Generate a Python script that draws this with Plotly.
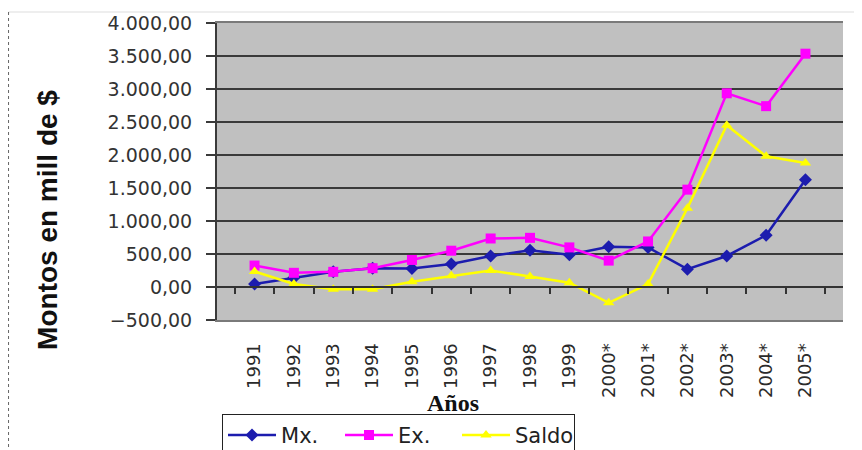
import plotly.graph_objects as go

years = ["1991", "1992", "1993", "1994", "1995", "1996", "1997", "1998", "1999",
         "2000*", "2001*", "2002*", "2003*", "2004*", "2005*"]
mx = [45, 140, 230, 285, 280, 350, 470, 555, 490, 610, 600, 270, 470, 785, 1625]
ex = [325, 215, 230, 285, 410, 550, 735, 745, 600, 400, 690, 1475, 2935, 2740, 3535]
saldo = [235, 45, -35, -35, 80, 170, 250, 160, 65, -240, 45, 1195, 2450, 1980, 1880]
y_ticks = [-500, 0, 500, 1000, 1500, 2000, 2500, 3000, 3500, 4000]
y_min, y_max = -500, 4000

fig = go.Figure()
fig.add_trace(go.Scatter(x=years, y=mx, name="Mx.", mode="lines+markers",
                         line=dict(color="#1c1cae", width=2.5),
                         marker=dict(symbol="diamond", size=10, color="#1c1cae")))
fig.add_trace(go.Scatter(x=years, y=ex, name="Ex.", mode="lines+markers",
                         line=dict(color="#ff00ff", width=2.5),
                         marker=dict(symbol="square", size=10, color="#ff00ff")))
fig.add_trace(go.Scatter(x=years, y=saldo, name="Saldo", mode="lines+markers",
                         line=dict(color="#ffff00", width=2.5),
                         marker=dict(symbol="triangle-up", size=10, color="#ffff00")))
# invisible helper trace for the category axis drawn at y = 0
fig.add_trace(go.Scatter(x=years, y=[None] * len(years), xaxis="x2", showlegend=False,
                         hoverinfo="skip", mode="lines"))

zero_pos = (0 - y_min) / (y_max - y_min)

fig.update_layout(
    width=854, height=442,
    margin=dict(l=209, r=19, t=15, b=130, autoexpand=False),
    paper_bgcolor="white",
    plot_bgcolor="#c0c0c0",
    font=dict(family="DejaVu Sans", color="#333333"),
    separators=",.",
    xaxis=dict(
        type="category", categoryarray=years, categoryorder="array",
        tickangle=-90, tickfont=dict(size=18, color="#2a2a2a"),
        ticklabelstandoff=14, automargin=False,
        showgrid=False, showline=True, linecolor="#7a7a7a", linewidth=2, mirror=True,
        ticks="", zeroline=False,
    ),
    xaxis2=dict(
        type="category", categoryarray=years, categoryorder="array", matches="x",
        overlaying="x", anchor="free", position=zero_pos,
        showticklabels=False, ticks="outside", tickson="boundaries", ticklen=6,
        tickcolor="#333333", tickwidth=2, showline=True, linecolor="#333333", linewidth=2,
        showgrid=False, zeroline=False, automargin=False,
    ),
    yaxis=dict(
        range=[y_min, y_max], tickvals=y_ticks, tickformat=",.2f",
        tickfont=dict(size=19, color="#333333"), automargin=False,
        ticklabelstandoff=10,
        showgrid=True, gridcolor="#3a3a3a", gridwidth=2,
        zeroline=False,
        showline=True, linecolor="#3a3a3a", linewidth=2,
        ticks="outside", ticklen=9, tickcolor="#3a3a3a", tickwidth=2,
    ),
    legend=dict(
        orientation="h", x=0.008, xanchor="left", y=-0.316, yanchor="top",
        bgcolor="white", bordercolor="#222222", borderwidth=1,
        itemwidth=48, entrywidth=54,
        font=dict(family="DejaVu Sans", size=21, color="#222222"),
    ),
    showlegend=True,
)

fig.add_annotation(text="<b>Montos en mill de $</b>", xref="paper", yref="paper",
                   x=-0.27, y=0.337, xanchor="center", yanchor="middle",
                   textangle=-90, showarrow=False,
                   font=dict(family="Liberation Sans", size=28, color="#111111"))
fig.add_annotation(text="<b>Años</b>", xref="paper", yref="paper",
                   x=0.377, y=-0.279, xanchor="center", yanchor="middle", showarrow=False,
                   font=dict(family="Liberation Serif", size=24, color="#111111"))

# outer chart frame
fig.add_shape(type="line", xref="paper", yref="paper", x0=-0.333, x1=1.03,
              y0=1.037, y1=1.037, line=dict(color="#dddddd", width=1))
fig.add_shape(type="line", xref="paper", yref="paper", x0=-0.333, x1=-0.333,
              y0=1.037, y1=-0.45, line=dict(color="#666666", width=1, dash="dot"))

fig.write_html("out.html")
